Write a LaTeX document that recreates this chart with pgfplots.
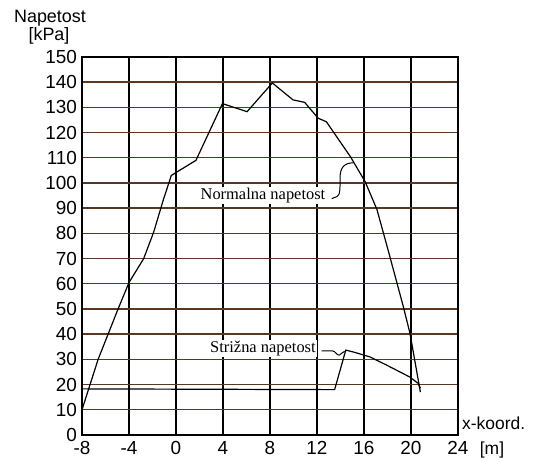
\documentclass[border=0pt]{standalone}
\usepackage{fontspec}
\setmainfont{Liberation Sans}
\newfontfamily\serifann{Liberation Serif}
\usepackage{pgfplots}
\pgfplotsset{compat=1.18}
\definecolor{hgrid}{RGB}{90,55,35}
\begin{document}
\begin{tikzpicture}
\begin{axis}[
  at={(0,0)}, anchor=south west,
  scale only axis,
  width=376bp, height=378bp,
  xmin=-8, xmax=24, ymin=0, ymax=150,
  xtick={-8,-4,...,24},
  ytick={0,10,...,150},
  tick style={draw=none},
  /pgf/number format/assume math mode=true,
  ticklabel style={font=\fontsize{19}{19}\selectfont},
  yticklabel style={xshift=-1.5bp},
  xticklabel style={yshift=-3bp},
  axis line style={line width=1.2bp},
  grid=major,
  x grid style={black, line width=1.3bp},
  y grid style={hgrid, line width=1.4bp},
  clip=false,
]
\addplot[black, line width=1.2bp] coordinates {
(-8,10) (-6.63,30) (-4.93,50) (-4.0,60.5) (-2.75,70) (-1.9,80.5) (-1.1,93)
(-0.4,103) (1.7,109) (3.95,131.5) (6.05,128.3) (8.2,139.7) (9.95,133)
(10.95,132) (12.1,125.7) (12.8,124.3) (14.85,110.4) (16.1,100.5) (17.1,89.5)
(18.05,73.4) (19.35,50.9) (19.91,40.4) (20.8,17)
};
\addplot[black, line width=1.2bp] coordinates {
(-8,18.3) (13.5,18) (14.45,33.7) (15.2,32.8) (16.5,31) (17.9,27.8)
(19.9,23) (20.6,20.5) (20.8,18.6)
};
\node[font=\serifann\fontsize{16.5}{16.5}\selectfont, fill=white, inner sep=1bp] at (axis cs:7.4,95.2) {Normalna napetost};
\draw[black, line width=1bp] (axis cs:13.25,93.8) -- (axis cs:13.7,94.6)
  .. controls (axis cs:14.0,95) and (axis cs:13.96,99) .. (axis cs:13.96,102)
  .. controls (axis cs:13.96,106) and (axis cs:14.3,108) .. (axis cs:15.1,108);
\node[font=\serifann\fontsize{16.5}{16.5}\selectfont, fill=white, inner sep=1bp] at (axis cs:7.4,34.5) {Strižna napetost};
\draw[black, line width=1bp] (axis cs:12.4,33.4) -- (axis cs:13.3,33.4)
  .. controls (axis cs:13.6,33.2) and (axis cs:13.7,31.5) .. (axis cs:13.9,31.7)
  .. controls (axis cs:14.05,31.9) and (axis cs:14.15,33) .. (axis cs:14.35,33.2);
\node[anchor=west, font=\fontsize{17.5}{17.5}\selectfont, inner sep=0pt] at ([xshift=4bp,yshift=12bp]rel axis cs:1,0) {x-koord.};
\node[font=\fontsize{17.5}{17.5}\selectfont, inner sep=0pt] at ([xshift=34bp,yshift=-15bp]rel axis cs:1,0) {[m]};
\node[font=\fontsize{18}{18}\selectfont, inner sep=0pt] at ([xshift=-32bp,yshift=39bp]rel axis cs:0,1) {Napetost};
\node[font=\fontsize{18}{18}\selectfont, inner sep=0pt] at ([xshift=-33bp,yshift=21bp]rel axis cs:0,1) {[kPa]};
\end{axis}
\useasboundingbox (-82bp,-24bp) rectangle (457bp,435bp);
\end{tikzpicture}
\end{document}
